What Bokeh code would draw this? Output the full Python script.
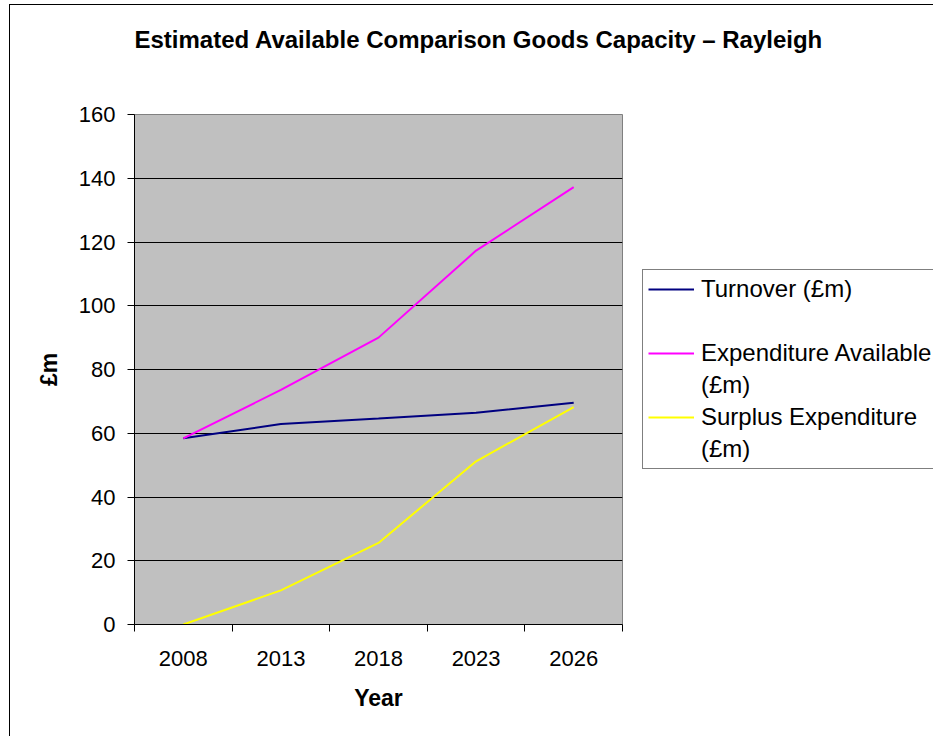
import numpy as np
from bokeh.plotting import figure
from bokeh.models import Range1d, FixedTicker, Legend, LegendItem, Title
from bokeh.embed import file_html
from bokeh.resources import INLINE

years = ["2008", "2013", "2018", "2023", "2026"]
turnover = [58.4, 62.9, 64.6, 66.4, 69.6]
expenditure = [58.4, 73.6, 90.0, 117.3, 137.2]
surplus = [0.0, 10.7, 25.6, 51.2, 68.2]
y_ticks = [0, 20, 40, 60, 80, 100, 120, 140, 160]
# legend text, one list of lines per series
series_labels = [["Turnover (£m)", ""], ["Expenditure Available", "(£m)"], ["Surplus Expenditure", "(£m)"]]
series_values = [turnover, expenditure, surplus]
series_colors = ["#000080", "#FF00FF", "#FFFF00"]
title_text = "Estimated Available Comparison Goods Capacity \u2013 Rayleigh"

FONT = "Liberation Sans"

x = [i + 0.5 for i in range(len(years))]

p = figure(frame_width=488, frame_height=510, output_backend="svg", toolbar_location=None,
           title=None,
           x_range=Range1d(0, len(years)), y_range=Range1d(0, 160),
           min_border_left=124, min_border_right=330, min_border_top=109, min_border_bottom=112,
           background_fill_color="#C0C0C0", border_fill_color="white",
           outline_line_color="#808080", outline_line_width=1)
p.margin = (5, 0, 0, 10)
p.styles = {"outline": "1px solid black"}

spacer = Title(text=" ", text_font_size="1px", standoff=59)
p.add_layout(spacer, "above")
title = Title(text=title_text, align="left", offset=0, standoff=0,
              text_font=FONT, text_font_size="24px", text_font_style="bold",
              text_color="black")
p.add_layout(title, "above")

xa = p.xaxis[0]
xa.ticker = FixedTicker(ticks=x, minor_ticks=list(range(len(years) + 1)))
xa.major_label_overrides = {xi: yr for xi, yr in zip(x, years)}
xa.major_tick_out = 0
xa.major_tick_in = 0
xa.minor_tick_out = 7
xa.minor_tick_in = 0
xa.minor_tick_line_color = "black"
xa.axis_line_color = "black"
xa.major_label_text_font = FONT
xa.major_label_text_font_size = "22px"
xa.major_label_text_color = "black"
xa.major_label_standoff = 19
xa.axis_label = "Year"
xa.axis_label_text_font = FONT
xa.axis_label_text_font_size = "23px"
xa.axis_label_text_font_style = "bold"
xa.axis_label_text_color = "black"
xa.axis_label_standoff = 16

ya = p.yaxis[0]
ya.ticker = FixedTicker(ticks=y_ticks, minor_ticks=[])
ya.major_tick_out = 7
ya.major_tick_in = 0
ya.major_tick_line_color = "black"
ya.axis_line_color = "black"
ya.major_label_text_font = FONT
ya.major_label_text_font_size = "22px"
ya.major_label_text_color = "black"
ya.major_label_standoff = 12
ya.axis_label = "£m"
ya.axis_label_text_font = FONT
ya.axis_label_text_font_size = "23px"
ya.axis_label_text_font_style = "bold"
ya.axis_label_text_color = "black"
ya.axis_label_standoff = 14

p.xgrid.visible = False
p.ygrid.ticker = FixedTicker(ticks=y_ticks, minor_ticks=[])
p.ygrid.grid_line_color = "black"
p.ygrid.grid_line_width = 1

items = []
for lines, vals, color in zip(series_labels, series_values, series_colors):
    r = p.line(x, vals, line_color=color, line_width=2)
    items.append(LegendItem(label=lines[0], renderers=[r]))
    # continuation line of the label: an empty, invisible renderer
    blank = p.line(x=[], y=[], line_alpha=0)
    items.append(LegendItem(label=lines[1], renderers=[blank]))

legend = Legend(items=items, location="center_left",
                border_line_color="black", border_line_width=1,
                background_fill_color="white", background_fill_alpha=1,
                label_text_font=FONT, label_text_font_size="24px",
                label_text_color="black",
                glyph_width=46, glyph_height=28, label_height=28, label_standoff=7,
                padding=5, spacing=4, margin=20)
p.add_layout(legend, "right")

open("out.html", "w").write(file_html(p, INLINE))
